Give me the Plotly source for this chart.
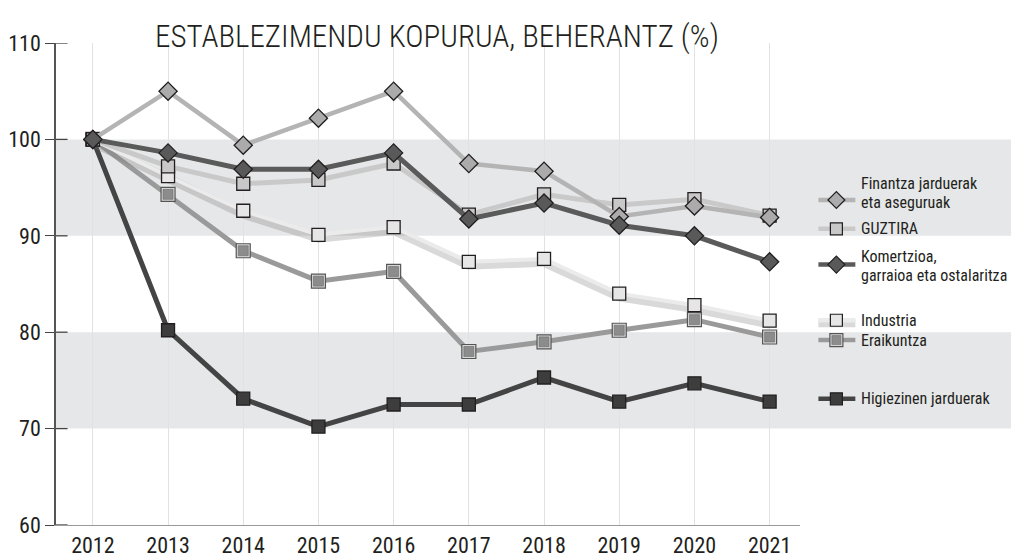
import plotly.graph_objects as go

years = ["2012", "2013", "2014", "2015", "2016", "2017", "2018", "2019", "2020", "2021"]
finantza = [100, 105.0, 99.4, 102.2, 105.0, 97.5, 96.7, 92.0, 93.1, 91.9]
guztira = [100, 97.2, 95.4, 95.8, 97.5, 92.2, 94.3, 93.2, 93.8, 92.1]
komertzioa = [100, 98.6, 96.9, 96.9, 98.6, 91.75, 93.4, 91.1, 90.0, 87.3]
industria = [100, 96.2, 92.6, 90.1, 90.9, 87.3, 87.6, 84.0, 82.8, 81.2]
eraikuntza = [100, 94.3, 88.45, 85.3, 86.3, 78.0, 79.0, 80.2, 81.3, 79.5]
higiezinen = [100, 80.2, 73.1, 70.2, 72.5, 72.5, 75.3, 72.8, 74.7, 72.8]
y_ticks = [60, 70, 80, 90, 100, 110]
bands = [(90, 100), (70, 80)]
title_text = "ESTABLEZIMENDU KOPURUA, BEHERANTZ (%)"
legend_labels = [["Finantza jarduerak", "eta aseguruak"], ["GUZTIRA"],
                 ["Komertzioa,", "garraioa eta ostalaritza"], ["Industria"],
                 ["Eraikuntza"], ["Higiezinen jarduerak"]]

FONT = "Roboto Condensed, DejaVu Sans Condensed, sans-serif"
TXT = "#231f20"
EDGE = "#231f20"

fig = go.Figure()

def series(y, lc, mc, sym, msize, lw=5):
    fig.add_trace(go.Scatter(
        x=years, y=y, mode="lines+markers",
        line=dict(color=lc, width=lw),
        marker=dict(symbol=sym, size=msize, color=mc, line=dict(color=EDGE, width=1.3)),
        showlegend=False, hoverinfo="skip"))

# Higiezinen
series(higiezinen, "#444444", "#3d3d3d", "square", 13)
# Eraikuntza (double-bordered square)
fig.add_trace(go.Scatter(x=years, y=eraikuntza, mode="lines+markers",
                         line=dict(color="#9a9a9a", width=5),
                         marker=dict(symbol="square", size=14, color="#d9d9d9",
                                     line=dict(color="#555555", width=1.2)),
                         showlegend=False, hoverinfo="skip"))
fig.add_trace(go.Scatter(x=years, y=eraikuntza, mode="markers",
                         marker=dict(symbol="square", size=10, color="#8c8c8c",
                                     line=dict(color="#6a6a6a", width=0.6)),
                         showlegend=False, hoverinfo="skip"))
# Industria with soft shadow
fig.add_trace(go.Scatter(x=years, y=[v - 0.35 for v in industria], mode="lines",
                         line=dict(color="rgba(120,120,120,0.28)", width=9),
                         showlegend=False, hoverinfo="skip"))
series(industria, "#ebebeb", "#e6e6e6", "square", 13, lw=4)
# GUZTIRA
series(guztira, "#c9c9c9", "#c8c8c8", "square", 13)
# Finantza
series(finantza, "#b4b4b4", "#ababab", "diamond", 14, lw=4.5)
# Komertzioa
series(komertzioa, "#5a5a5a", "#595959", "diamond", 14)

# Legend keys on a secondary axis pair (pixel-like x units)
leg_y_sym = [93.71, 90.72, 87.01, 81.24, 79.18, 73.09]
leg_y_txt = [[95.41, 93.45], [90.72], [87.84, 85.88], [81.24], [79.18], [73.09]]
leg_style = [
    ("#b4b4b4", "#ababab", "diamond", 13),
    ("#c9c9c9", "#c8c8c8", "square", 12),
    ("#5a5a5a", "#595959", "diamond", 13),
    ("#ebebeb", "#e6e6e6", "square", 12),
    ("#9a9a9a", "#8c8c8c", "square", 12),
    ("#444444", "#3d3d3d", "square", 12),
]
for i, (lc, mc, sym, ms) in enumerate(leg_style):
    yy = leg_y_sym[i]
    if i == 3:
        fig.add_trace(go.Scatter(x=[3, 40], y=[yy - 0.3, yy - 0.3], mode="lines",
                                 line=dict(color="rgba(120,120,120,0.28)", width=8),
                                 xaxis="x2", yaxis="y2", showlegend=False, hoverinfo="skip"))
    fig.add_trace(go.Scatter(x=[3, 40], y=[yy, yy], mode="lines",
                             line=dict(color=lc, width=4.5),
                             xaxis="x2", yaxis="y2", showlegend=False, hoverinfo="skip"))
    if i == 4:
        fig.add_trace(go.Scatter(x=[21], y=[yy], mode="markers",
                                 marker=dict(symbol="square", size=13, color="#d9d9d9",
                                             line=dict(color="#555555", width=1.2)),
                                 xaxis="x2", yaxis="y2", showlegend=False, hoverinfo="skip"))
        fig.add_trace(go.Scatter(x=[21], y=[yy], mode="markers",
                                 marker=dict(symbol="square", size=9, color="#8c8c8c",
                                             line=dict(color="#6a6a6a", width=0.6)),
                                 xaxis="x2", yaxis="y2", showlegend=False, hoverinfo="skip"))
    else:
        fig.add_trace(go.Scatter(x=[21], y=[yy], mode="markers",
                                 marker=dict(symbol=sym, size=ms, color=mc,
                                             line=dict(color=EDGE, width=1.2)),
                                 xaxis="x2", yaxis="y2", showlegend=False, hoverinfo="skip"))
    for line_text, ty in zip(legend_labels[i], leg_y_txt[i]):
        fig.add_annotation(x=45, y=ty, xref="x2", yref="y2", text=line_text,
                           showarrow=False, xanchor="left", yanchor="middle", align="left",
                           borderpad=0, font=dict(family=FONT, size=16, color=TXT))

shapes = []
for lo, hi in bands:
    shapes.append(dict(type="rect", xref="paper", yref="y", x0=0, x1=1, y0=lo, y1=hi,
                       fillcolor="#e6e7e8", line=dict(width=0), layer="below"))
for t in y_ticks:
    shapes.append(dict(type="line", xref="paper", yref="y", x0=0, x1=0.012, y0=t, y1=t,
                       line=dict(color="#444444", width=1.3)))

fig.update_layout(
    width=1011, height=550,
    margin=dict(l=46, r=0, t=35, b=30),
    paper_bgcolor="white", plot_bgcolor="white",
    shapes=shapes,
    xaxis=dict(type="category", domain=[0, 746 / 965], range=[-0.49, 9.41],
               showgrid=True, gridcolor="#e2e2e2", gridwidth=1,
               showline=True, linecolor="#9a9a9a", linewidth=1.3,
               ticks="", tickfont=dict(family=FONT, size=22, color=TXT),
               zeroline=False, fixedrange=True),
    yaxis=dict(range=[60, 110], tickvals=y_ticks, showgrid=False, zeroline=False,
               showline=True, linecolor="#555555", linewidth=1.5,
               ticks="outside", ticklen=9, tickcolor="#444444", tickwidth=1.3,
               tickfont=dict(family=FONT, size=22, color=TXT)),
    xaxis2=dict(domain=[(815 - 54) / 965, 1], range=[0, 204], visible=False,
                anchor="y2", fixedrange=True),
    yaxis2=dict(domain=[0, 1], range=[60, 110], visible=False, anchor="x2"),
)

fig.add_annotation(x=(436 - 54) / 965, y=1.014, xref="paper", yref="paper",
                   text=title_text, showarrow=False, xanchor="center", yanchor="middle",
                   font=dict(family=FONT, size=31, color=TXT, weight=300))

fig.write_html("out.html")
